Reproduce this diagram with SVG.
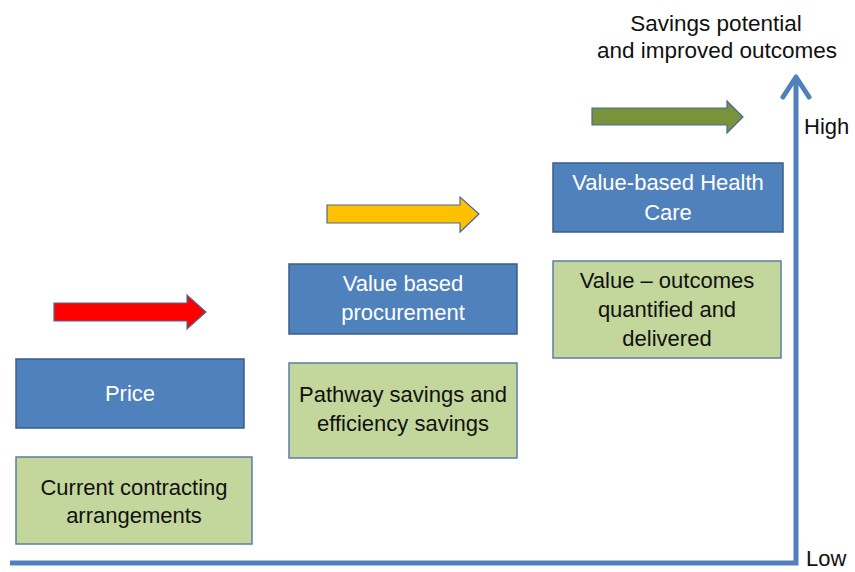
<svg xmlns="http://www.w3.org/2000/svg" width="855" height="572" viewBox="0 0 855 572">
<style>
.blue{fill:#4F81BD;stroke:#385D8A;stroke-width:1.5}
.green{fill:#C3D69B;stroke:#5B7FA8;stroke-width:1.5}
.t{font-family:"Liberation Sans",Arial,sans-serif;font-size:22px;text-anchor:middle}
.w{fill:#FFFFFF}
.k{fill:#111111}
.arr{stroke:#4A6A96;stroke-width:1.2}
.axis{fill:none;stroke:#4F81BD;stroke-width:5}
</style>
<rect width="855" height="572" fill="#FFFFFF"/>
<g id="connectors">
<path class="axis" d="M10,563 L796,563 L796,78"/>
<path class="axis" d="M783,97 L796,77 L809,97" stroke-linecap="round" stroke-linejoin="round"/>
</g>
<g id="arrow-red"><polygon class="arr" fill="#FF0000" points="54,303 187,303 187,295 206,312 187,329 187,321 54,321"/></g>
<g id="arrow-yellow"><polygon class="arr" fill="#FFC000" points="327,205 460,205 460,197 479,214 460,232 460,223 327,223"/></g>
<g id="arrow-green"><polygon class="arr" fill="#77933C" points="592,108 727,108 727,101 743,117 727,133 727,125 592,125"/></g>
<g id="price"><rect class="blue" x="16" y="359" width="228" height="69"/><text class="t w" x="130" y="401">Price</text></g>
<g id="current"><rect class="green" x="16" y="457" width="236" height="87"/><text class="t k" x="134" y="495">Current contracting</text><text class="t k" x="134" y="523">arrangements</text></g>
<g id="vbp"><rect class="blue" x="289" y="264" width="228" height="70"/><text class="t w" x="403" y="291">Value based</text><text class="t w" x="403" y="320">procurement</text></g>
<g id="pathway"><rect class="green" x="289" y="363" width="228" height="95"/><text class="t k" x="403" y="402">Pathway savings and</text><text class="t k" x="403" y="431">efficiency savings</text></g>
<g id="vbhc"><rect class="blue" x="553" y="163" width="230" height="69"/><text class="t w" x="668" y="190">Value-based Health</text><text class="t w" x="668" y="220">Care</text></g>
<g id="outcomes"><rect class="green" x="553" y="261" width="228" height="97"/><text class="t k" x="667" y="288">Value – outcomes</text><text class="t k" x="667" y="317">quantified and</text><text class="t k" x="667" y="346">delivered</text></g>
<g id="labels">
<text class="t k" x="716" y="31" style="font-size:22.5px">Savings potential</text>
<text class="t k" x="717" y="58" style="font-size:22.5px">and improved outcomes</text>
<text class="t k" x="804" y="134" style="text-anchor:start">High</text>
<text class="t k" x="806" y="566" style="text-anchor:start">Low</text>
</g>
</svg>
